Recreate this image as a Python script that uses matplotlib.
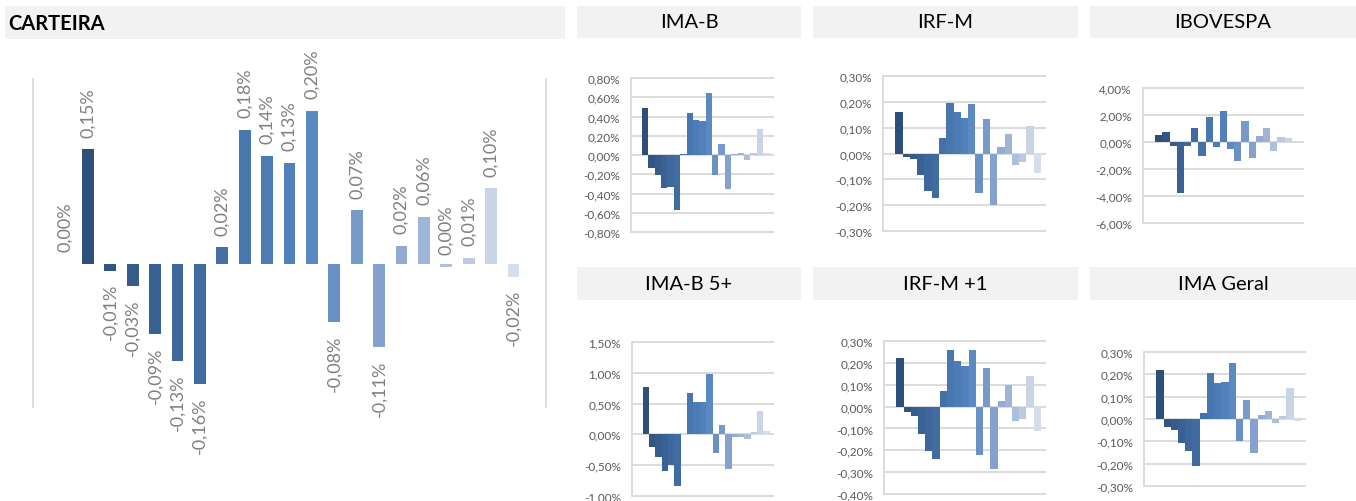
import matplotlib
matplotlib.use('Agg')
import matplotlib.pyplot as plt
from matplotlib.colors import LinearSegmentedColormap
from matplotlib.patches import Rectangle
import numpy as np

plt.rcParams['font.family'] = ['Lato', 'DejaVu Sans']

# Monthly returns (%) - 21 periods, first one empty
carteira = [0.000, 0.152, -0.009, -0.030, -0.093, -0.129, -0.160, 0.022, 0.178, 0.143, 0.134,
            0.203, -0.077, 0.071, -0.111, 0.024, 0.062, -0.004, 0.008, 0.100, -0.017]
ima_b = [0, 0.49, -0.13, -0.21, -0.345, -0.337, -0.575, 0.01, 0.437, 0.365, 0.354,
         0.644, -0.21, 0.112, -0.357, 0.01, 0.02, -0.047, 0.02, 0.271, 0.02]
irf_m = [0, 0.162, -0.015, -0.023, -0.085, -0.146, -0.174, 0.061, 0.197, 0.162, 0.138,
         0.193, -0.153, 0.135, -0.2, 0.026, 0.076, -0.045, -0.032, 0.105, -0.077]
ibovespa = [0, 0.52, 0.72, -0.27, -3.75, -0.27, 1.04, -1.01, 1.85, -0.35, 2.3,
            -0.49, -1.38, 1.56, -1.16, 0.44, 1.04, -0.67, 0.37, 0.3, 0]
ima_b5 = [0, 0.77, -0.21, -0.37, -0.6, -0.5, -0.84, 0.01, 0.67, 0.52, 0.53,
          0.98, -0.31, 0.15, -0.56, -0.04, -0.04, -0.07, 0.04, 0.38, 0.06]
irf_m1 = [0, 0.222, -0.026, -0.044, -0.127, -0.204, -0.241, 0.073, 0.259, 0.21, 0.187,
          0.259, -0.223, 0.177, -0.287, 0.027, 0.1, -0.067, -0.055, 0.14, -0.113]
ima_geral = [0, 0.218, -0.036, -0.051, -0.107, -0.143, -0.21, 0.025, 0.207, 0.16, 0.164,
             0.252, -0.1, 0.087, -0.152, 0.02, 0.037, -0.018, 0.012, 0.137, -0.009]

# y ticks of the small panels
ticks_ima_b = [-0.8, -0.6, -0.4, -0.2, 0, 0.2, 0.4, 0.6, 0.8]
ticks_irf_m = [-0.3, -0.2, -0.1, 0, 0.1, 0.2, 0.3]
ticks_ibov = [-6, -4, -2, 0, 2, 4]
ticks_ima_b5 = [-1.0, -0.5, 0, 0.5, 1.0, 1.5]
ticks_irf_m1 = [-0.4, -0.3, -0.2, -0.1, 0, 0.1, 0.2, 0.3]
ticks_ima_geral = [-0.3, -0.2, -0.1, 0, 0.1, 0.2, 0.3]

W, H = 1356, 502
fig = plt.figure(figsize=(W / 100, H / 100), dpi=100)

cmap = LinearSegmentedColormap.from_list('blues', ['#2C4A74', '#3E679B', '#4F81BD', '#92AAD2', '#D6DEEC'])
n = len(carteira)
colors = [cmap(i / (n - 1)) for i in range(n)]
x = np.arange(n)

GRID = '#D9D9D9'


def px_rect(l, r, t, b):
    return [l / W, 1 - b / H, (r - l) / W, (b - t) / H]


def pct(v):
    s = f'{v:.2f}'
    if s == '-0.00':
        s = '0.00'
    return s.replace('.', ',') + '%'


def header(l, r, t, b, text, left=False):
    fig.patches.append(Rectangle((l / W, 1 - b / H), (r - l) / W, (b - t) / H,
                                 transform=fig.transFigure, facecolor='#F2F2F2',
                                 edgecolor='none', zorder=0))
    if left:
        fig.text((l + 3) / W, 1 - (t + b) / 2 / H, text, ha='left', va='center',
                 fontsize=14.5, fontweight='bold', color='black')
    else:
        fig.text((l + r) / 2 / W, 1 - (t + b) / 2 / H, text, ha='center', va='center',
                 fontsize=14.5, color='black')


# Main chart - CARTEIRA
header(5, 565, 7, 40, 'CARTEIRA', left=True)
ax = fig.add_axes(px_rect(33, 546, 80, 408))
ax.bar(x, carteira, width=0.52, color=colors, linewidth=0)
ax.set_xlim(-1.45, 21.45)
ax.set_ylim(-0.19, 0.245)
for s in ['top', 'bottom']:
    ax.spines[s].set_visible(False)
for s in ['left', 'right']:
    ax.spines[s].set_color(GRID)
    ax.spines[s].set_linewidth(1.3)
ax.set_xticks([])
ax.set_yticks([])
for i, v in enumerate(carteira):
    neg = pct(v).startswith('-')
    ax.annotate(pct(v), (i, v), xytext=(0, -9 if neg else 9), textcoords='offset points',
                rotation=90, ha='center', va='top' if neg else 'bottom',
                fontsize=13, color='#808080', annotation_clip=False)

# Small panels
panels = [
    ('IMA-B', ima_b, ticks_ima_b, (577, 801, 7, 39), (631, 774, 79, 233)),
    ('IRF-M', irf_m, ticks_irf_m, (813, 1078, 7, 39), (883, 1046, 77, 232)),
    ('IBOVESPA', ibovespa, ticks_ibov, (1090, 1356, 7, 39), (1143, 1304, 89, 224)),
    ('IMA-B 5+', ima_b5, ticks_ima_b5, (577, 801, 268, 301), (632, 774, 343, 497)),
    ('IRF-M +1', irf_m1, ticks_irf_m1, (813, 1078, 268, 301), (884, 1046, 342, 495)),
    ('IMA Geral', ima_geral, ticks_ima_geral, (1090, 1356, 268, 301), (1144, 1306, 353, 487)),
]

for title, vals, ticks, hbox, abox in panels:
    header(*hbox, title)
    a = fig.add_axes(px_rect(*abox))
    a.hlines(ticks, -1.2, 21.2, color=GRID, linewidth=1.3, zorder=0, clip_on=False)
    a.bar(x, vals, width=1.0, color=colors, linewidth=0, zorder=2)
    a.set_xlim(-1.2, 21.2)
    a.set_ylim(ticks[0], ticks[-1])
    for s in ['top', 'bottom', 'right']:
        a.spines[s].set_visible(False)
    a.spines['left'].set_color(GRID)
    a.spines['left'].set_linewidth(1.3)
    a.set_xticks([])
    a.set_yticks(ticks)
    a.set_yticklabels([pct(t) for t in ticks])
    a.tick_params(axis='y', length=0, pad=8, labelsize=8.5, labelcolor='#595959')

fig.savefig('out.png', dpi=100)
